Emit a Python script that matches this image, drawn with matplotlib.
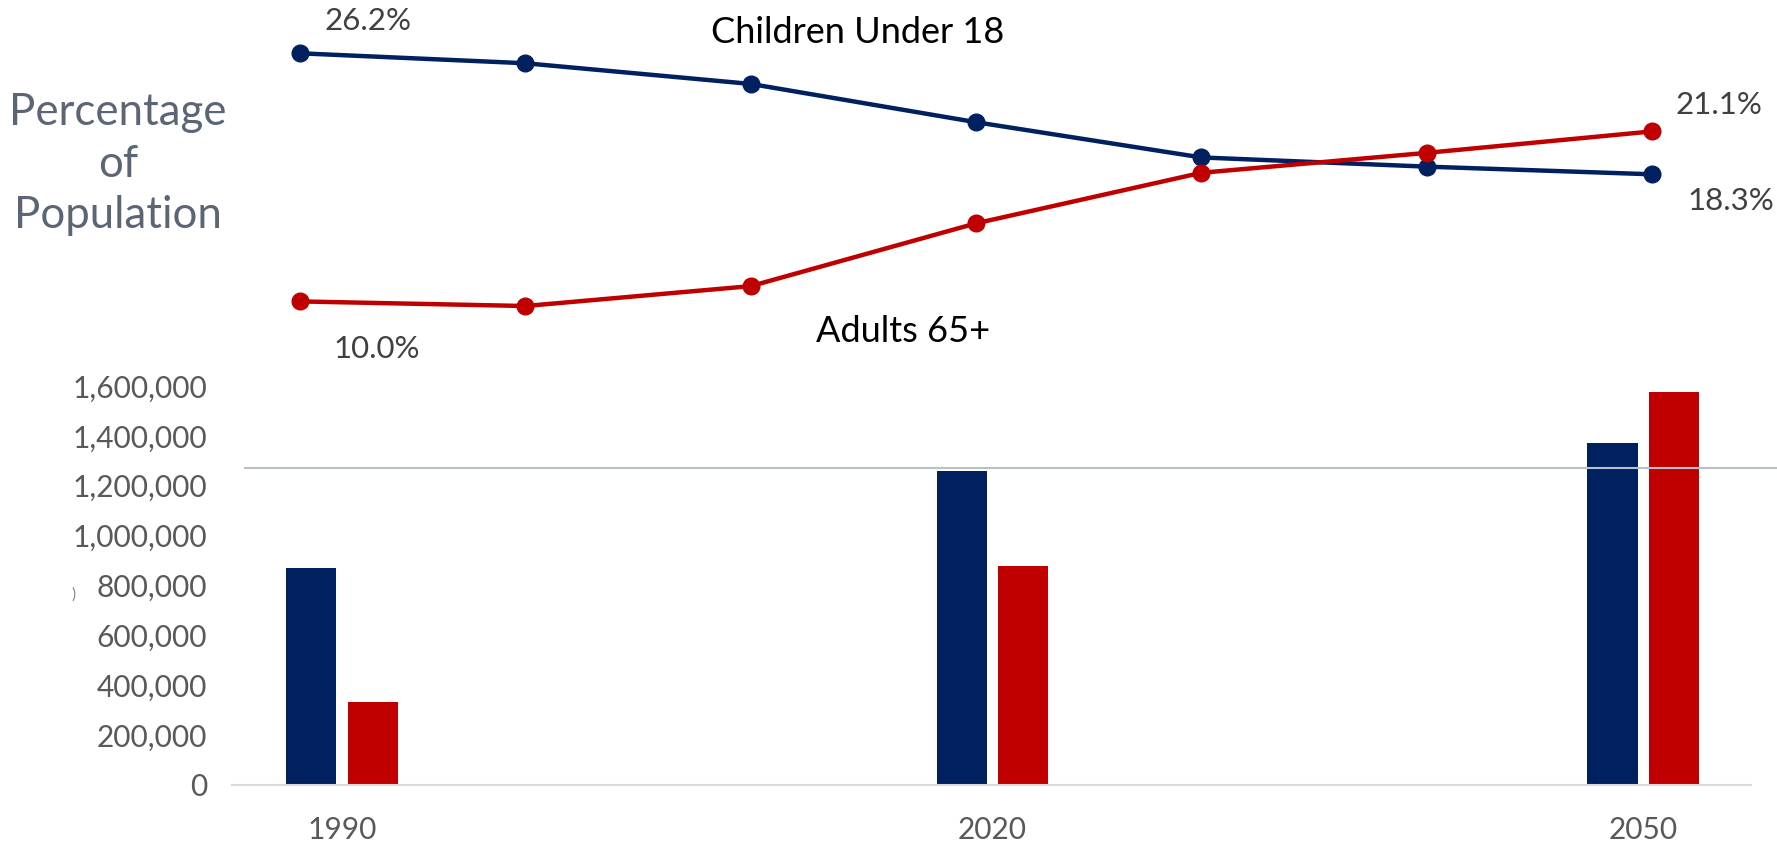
import matplotlib.pyplot as plt
from matplotlib.lines import Line2D

# line chart data (% of population)
years = [1990, 2000, 2010, 2020, 2030, 2040, 2050]
pct_children = [26.2, 25.55, 24.2, 21.7, 19.4, 18.8, 18.3]
pct_adults = [10.0, 9.7, 11.0, 15.1, 18.4, 19.7, 21.1]

# bar chart data (people)
bar_years = ["1990", "2020", "2050"]
children_count = [869000, 1257000, 1373000]
adults_count = [334000, 877000, 1576000]
y_ticks = [0, 200000, 400000, 600000, 800000, 1000000, 1200000, 1400000, 1600000]

navy = "#002060"
red = "#C00000"
grey_txt = "#595959"

plt.rcParams['font.family'] = ['Lato', 'DejaVu Sans']

fig = plt.figure(figsize=(17.77, 8.49), dpi=100)

# --- top: percentage lines ---
ax1 = fig.add_axes([0.1306, 0.5995, 0.8548, 0.4005])
ax1.plot(years, pct_children, color=navy, lw=3.2, marker="o", ms=12)
ax1.plot(years, pct_adults, color=red, lw=3.2, marker="o", ms=12)
ax1.set_xlim(1986.98, 2054.39)
ax1.set_ylim(7.48, 29.68)
ax1.axis("off")

lab = dict(textcoords="offset points", fontsize=22.5, color="#404040",
           ha="center", va="center", annotation_clip=False)
ax1.annotate(f"{pct_children[0]:.1f}%", (years[0], pct_children[0]), xytext=(49, 23), **lab)
ax1.annotate(f"{pct_adults[0]:.1f}%", (years[0], pct_adults[0]), xytext=(55, -34), **lab)
ax1.annotate(f"{pct_adults[-1]:.1f}%", (years[-1], pct_adults[-1]), xytext=(48, 19), **lab)
ax1.annotate(f"{pct_children[-1]:.1f}%", (years[-1], pct_children[-1]), xytext=(57, -19), **lab)

fig.text(0.4828, 0.9623, "Children Under 18", fontsize=26, color="black", ha="center", va="center")
fig.text(0.5082, 0.6101, "Adults 65+", fontsize=26, color="black", ha="center", va="center")
fig.text(0.0664, 0.8068, "Percentage\nof\nPopulation", fontsize=31.5, color="#5b6575",
         ha="center", va="center", linespacing=1.32)

# --- bottom: counts ---
ax2 = fig.add_axes([0.1306, 0.0754, 0.8548, 0.4700])
pos = list(range(len(bar_years)))
w = 0.077
ax2.bar([p - 0.047 for p in pos], children_count, width=w, color=navy)
ax2.bar([p + 0.047 for p in pos], adults_count, width=w, color=red)
ax2.set_xlim(-0.169, 2.166)
ax2.set_ylim(0, 1600000)
ax2.set_yticks(y_ticks)
ax2.set_yticklabels([f"{v:,}" for v in y_ticks])
ax2.set_xticks(pos)
ax2.set_xticklabels(bar_years)
ax2.tick_params(axis="both", length=0, labelsize=21.5, labelcolor=grey_txt)
ax2.tick_params(axis="y", pad=18)
ax2.tick_params(axis="x", pad=22)
for s in ["top", "right", "left"]:
    ax2.spines[s].set_visible(False)
ax2.spines["bottom"].set_color("#d9d9d9")
ax2.spines["bottom"].set_linewidth(1.5)

# separator line across the slide
fig.add_artist(Line2D([245 / 1777, 1.0], [1 - 468 / 849] * 2, color="#b8c0ca", lw=1.5))
fig.text(74 / 1777, 1 - 595 / 849, ")", fontsize=11, color="#808080", ha="center", va="center")

fig.savefig("out.png", dpi=100)
